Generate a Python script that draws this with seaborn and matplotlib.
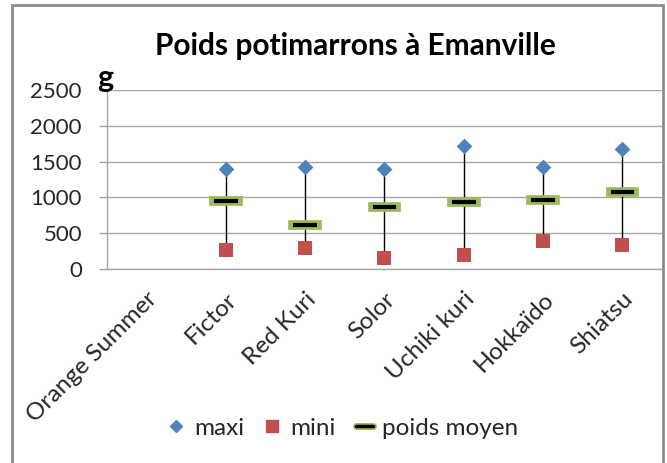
import numpy as np
import pandas as pd
import matplotlib
matplotlib.use("Agg")
import matplotlib.pyplot as plt
import matplotlib.patheffects as pe
from matplotlib.lines import Line2D
from matplotlib.patches import Rectangle
import seaborn as sns

categories = ["Orange Summer", "Fictor", "Red Kuri", "Solor", "Uchiki kuri", "Hokkaïdo", "Shiatsu"]
maxi = [np.nan, 1400, 1430, 1400, 1720, 1430, 1670]
mini = [np.nan, 260, 300, 160, 190, 390, 340]
poids_moyen = [np.nan, 950, 610, 860, 940, 970, 1080]

BLUE = "#4F81BD"
RED = "#C0504D"
GREEN = "#9BBB59"
GRID = "#A6A6A6"
TXT = "#262626"

df = pd.DataFrame({"variete": categories, "maxi": maxi, "mini": mini, "moyen": poids_moyen})

sns.set_style("white")
plt.rcParams["font.family"] = ["Lato", "DejaVu Sans"]

fig = plt.figure(figsize=(6.67, 4.63), dpi=100)
ax = fig.add_axes([0.1604, 0.419, 0.8321, 0.3866])

# chart frame
fig.patches.append(Rectangle((12 / 667, -0.05), 651 / 667, 1.05 - 5 / 463,
                             transform=fig.transFigure, fill=False,
                             edgecolor="#8C8C8C", linewidth=2, zorder=0))

# high-low lines
pos = np.arange(len(categories))
ax.vlines(pos, df["mini"], df["maxi"], color="black", linewidth=1, zorder=2)

sns.stripplot(data=df, x="variete", y="maxi", order=categories, jitter=False,
              marker="D", size=8, color=BLUE, linewidth=0, ax=ax, zorder=3)
sns.stripplot(data=df, x="variete", y="mini", order=categories, jitter=False,
              marker="s", size=9.5, color=RED, linewidth=0, ax=ax, zorder=3)
# mean marker: black dash with green halo
ax.scatter(pos, df["moyen"], marker="_", s=17 ** 2, color="black", linewidths=3,
           zorder=4, path_effects=[pe.withStroke(linewidth=7, foreground=GREEN, capstyle="projecting")])

ax.set_xlim(-0.5, len(categories) - 0.5)
ax.set_ylim(0, 2500)
ax.set_yticks(range(0, 2501, 500))
ax.set_xticks(pos)
ax.set_xticklabels(categories, rotation=45, ha="right", rotation_mode="anchor")
ax.set_xticks(np.arange(-0.5, len(categories), 1), minor=True)
ax.tick_params(axis="x", which="major", length=0, pad=14, labelsize=17.5, labelcolor=TXT)
ax.tick_params(axis="x", which="minor", length=6, width=1, color=GRID, direction="out")
ax.tick_params(axis="y", length=6, width=1, color=GRID, direction="out", pad=12,
               labelsize=16, labelcolor=TXT, left=True)
ax.set_xlabel("")
ax.set_ylabel("")
ax.grid(axis="y", color=GRID, linewidth=1)
ax.set_axisbelow(True)
for s in ["top", "right"]:
    ax.spines[s].set_visible(False)
for s in ["left", "bottom"]:
    ax.spines[s].set_color(GRID)
    ax.spines[s].set_linewidth(1)

fig.text(355 / 667, 1 - 46 / 463, "Poids potimarrons à Emanville", ha="center", va="center",
         fontsize=21.5, fontweight="bold", color="black")
fig.text(105 / 667, 1 - 78 / 463, "g", ha="center", va="center",
         fontsize=22, fontweight="bold", color="black")

handles = [
    Line2D([], [], linestyle="none", marker="D", markersize=6.5, color=BLUE),
    Line2D([], [], linestyle="none", marker="s", markersize=9, color=RED),
    Line2D([], [], color="black", linewidth=2.5,
           path_effects=[pe.withStroke(linewidth=5, foreground=GREEN)]),
]
fig.legend(handles, ["maxi", "mini", "poids moyen"], loc="center",
           bbox_to_anchor=(343 / 667, 1 - 428 / 463), ncol=3, frameon=False,
           fontsize=17.5, handlelength=0.7, handletextpad=0.4, columnspacing=0.8,
           labelcolor=TXT)

fig.savefig("out.png", dpi=100)
